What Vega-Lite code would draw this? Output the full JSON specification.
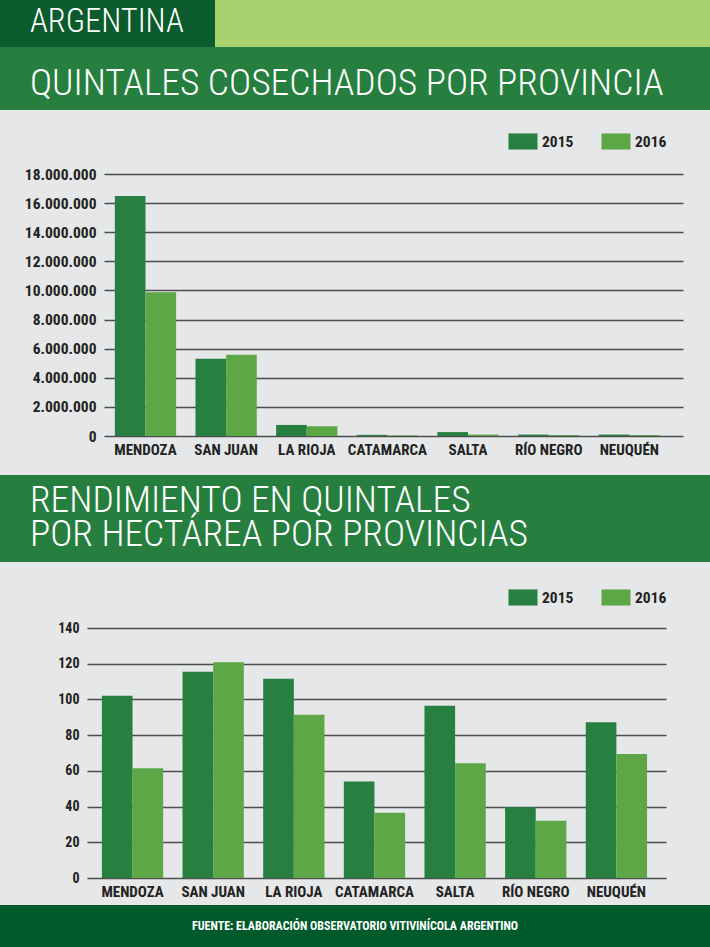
{
  "$schema": "https://vega.github.io/schema/vega-lite/v6.json",
  "padding": 0,
  "background": "#e6e7e8",
  "spacing": 0,
  "resolve": {"scale": {"color": "independent"}, "legend": {"color": "independent"}},
  "config": {
    "locale": {"number": {"decimal": ",", "thousands": ".", "grouping": [3], "currency": ["$", ""]}},
    "view": {"stroke": null},
    "font": "Roboto Condensed, Liberation Sans Narrow, DejaVu Sans Condensed, sans-serif"
  },
  "datasets": {
    "d": [
      {"provincia": "MENDOZA", "anio": "2015", "quintales": 16480000, "rendimiento": 102},
      {"provincia": "MENDOZA", "anio": "2016", "quintales": 9870000, "rendimiento": 61.5},
      {"provincia": "SAN JUAN", "anio": "2015", "quintales": 5310000, "rendimiento": 115.5},
      {"provincia": "SAN JUAN", "anio": "2016", "quintales": 5580000, "rendimiento": 120.8},
      {"provincia": "LA RIOJA", "anio": "2015", "quintales": 760000, "rendimiento": 111.6},
      {"provincia": "LA RIOJA", "anio": "2016", "quintales": 670000, "rendimiento": 91.4},
      {"provincia": "CATAMARCA", "anio": "2015", "quintales": 80000, "rendimiento": 54.1},
      {"provincia": "CATAMARCA", "anio": "2016", "quintales": 40000, "rendimiento": 36.6},
      {"provincia": "SALTA", "anio": "2015", "quintales": 270000, "rendimiento": 96.5},
      {"provincia": "SALTA", "anio": "2016", "quintales": 100000, "rendimiento": 64.2},
      {"provincia": "RÍO NEGRO", "anio": "2015", "quintales": 100000, "rendimiento": 39.6},
      {"provincia": "RÍO NEGRO", "anio": "2016", "quintales": 70000, "rendimiento": 32.1},
      {"provincia": "NEUQUÉN", "anio": "2015", "quintales": 100000, "rendimiento": 87.2},
      {"provincia": "NEUQUÉN", "anio": "2016", "quintales": 70000, "rendimiento": 69.4}
    ]
  },
  "vconcat": [
    {
      "hconcat": [
        {
          "data": {"values": []},
          "mark": "rect",
          "width": 215,
          "height": 47,
          "view": {"fill": "#0b5b2d", "stroke": null},
          "title": {"text": "ARGENTINA", "orient": "top", "anchor": "start", "frame": "group", "dx": 30, "offset": -64, "baseline": "alphabetic", "fontSize": 32.5, "fontWeight": 300, "color": "#ffffff"}
        },
        {
          "data": {"values": []},
          "mark": "rect",
          "width": 495,
          "height": 47,
          "view": {"fill": "#a7d26d", "stroke": null}
        }
      ],
      "spacing": 0
    },
    {
      "data": {"values": []},
      "mark": "rect",
      "width": 710,
      "height": 63,
      "view": {"fill": "#267f3f", "stroke": null},
      "title": {"text": "QUINTALES COSECHADOS POR PROVINCIA", "orient": "top", "anchor": "start", "frame": "group", "dx": 30, "offset": -85, "baseline": "alphabetic", "fontSize": 37.5, "fontWeight": 300, "color": "#ffffff"}
    },
    {
      "data": {"values": []},
      "mark": "rect",
      "width": 710,
      "height": 23
    },
    {
      "data": {"name": "d"},
      "mark": {"type": "bar"},
      "width": 683,
      "height": 262,
      "encoding": {
        "x": {
          "field": "provincia", "type": "nominal",
          "sort": ["MENDOZA", "SAN JUAN", "LA RIOJA", "CATAMARCA", "SALTA", "RÍO NEGRO", "NEUQUÉN"],
          "scale": {"range": [104, 683], "paddingInner": 0.24, "paddingOuter": 0.21, "align": 0.32},
          "axis": {"title": null, "labelAngle": 0, "domain": false, "ticks": false, "labelPadding": 6, "labelFontSize": 15, "labelFontWeight": "bold", "labelColor": "#222222"}
        },
        "xOffset": {"field": "anio", "type": "nominal", "scale": {"paddingInner": 0, "paddingOuter": 0}},
        "y": {
          "field": "quintales", "type": "quantitative",
          "scale": {"domain": [0, 18000000]},
          "axis": {"title": null, "offset": -104, "values": [0, 2000000, 4000000, 6000000, 8000000, 10000000, 12000000, 14000000, 16000000, 18000000], "format": ",d", "domain": false, "ticks": false, "gridColor": "#4d4d4d", "gridWidth": 1.3, "labelPadding": 8, "labelFontSize": 15.5, "labelFontWeight": "bold", "labelColor": "#222222"}
        },
        "color": {
          "field": "anio", "type": "nominal",
          "scale": {"domain": ["2015", "2016"], "range": ["#278040", "#5da746"]},
          "legend": {
            "title": null, "orient": "none", "direction": "horizontal", "legendX": 514.5, "legendY": -41,
            "symbolType": "M-1.8,-1H1.8V1H-1.8Z", "symbolSize": 260, "symbolStrokeWidth": 0, "symbolOpacity": 1,
            "labelOffset": 10.5, "columnPadding": 27, "labelFontSize": 15.5, "labelFontWeight": "bold", "labelColor": "#222222",
            "encode": {"symbols": {"update": {"fill": {"signal": "datum.value == '2015' ? '#00592b' : '#7dc24b'"}, "stroke": {"value": "transparent"}}}}
          }
        }
      }
    },
    {
      "data": {"values": []},
      "mark": "rect",
      "width": 710,
      "height": 18
    },
    {
      "data": {"values": []},
      "mark": "rect",
      "width": 710,
      "height": 87,
      "view": {"fill": "#267f3f", "stroke": null},
      "title": {"text": ["RENDIMIENTO EN QUINTALES", "POR HECTÁREA POR PROVINCIAS"], "orient": "top", "anchor": "start", "frame": "group", "dx": 30, "offset": -108, "baseline": "alphabetic", "lineHeight": 34, "fontSize": 37.5, "fontWeight": 300, "color": "#ffffff"}
    },
    {
      "data": {"values": []},
      "mark": "rect",
      "width": 710,
      "height": 27
    },
    {
      "data": {"name": "d"},
      "mark": {"type": "bar"},
      "width": 666,
      "height": 250,
      "encoding": {
        "x": {
          "field": "provincia", "type": "nominal",
          "sort": ["MENDOZA", "SAN JUAN", "LA RIOJA", "CATAMARCA", "SALTA", "RÍO NEGRO", "NEUQUÉN"],
          "scale": {"range": [87, 666], "paddingInner": 0.24, "paddingOuter": 0.21, "align": 0.44},
          "axis": {"title": null, "labelAngle": 0, "domain": false, "ticks": false, "labelPadding": 6, "labelFontSize": 15, "labelFontWeight": "bold", "labelColor": "#222222"}
        },
        "xOffset": {"field": "anio", "type": "nominal", "scale": {"paddingInner": 0, "paddingOuter": 0}},
        "y": {
          "field": "rendimiento", "type": "quantitative",
          "scale": {"domain": [0, 140]},
          "axis": {"title": null, "offset": -87, "values": [0, 20, 40, 60, 80, 100, 120, 140], "domain": false, "ticks": false, "gridColor": "#4d4d4d", "gridWidth": 1.3, "labelPadding": 8, "labelFontSize": 14, "labelFontWeight": "bold", "labelColor": "#222222"}
        },
        "color": {
          "field": "anio", "type": "nominal",
          "scale": {"domain": ["2015", "2016"], "range": ["#278040", "#5da746"]},
          "legend": {
            "title": null, "orient": "none", "direction": "horizontal", "legendX": 514.5, "legendY": -39,
            "symbolType": "M-1.8,-1H1.8V1H-1.8Z", "symbolSize": 260, "symbolStrokeWidth": 0, "symbolOpacity": 1,
            "labelOffset": 10.5, "columnPadding": 27, "labelFontSize": 15.5, "labelFontWeight": "bold", "labelColor": "#222222",
            "encode": {"symbols": {"update": {"fill": {"signal": "datum.value == '2015' ? '#00592b' : '#7dc24b'"}, "stroke": {"value": "transparent"}}}}
          }
        }
      }
    },
    {
      "data": {"values": []},
      "mark": "rect",
      "width": 710,
      "height": 6
    },
    {
      "data": {"values": []},
      "mark": "rect",
      "width": 710,
      "height": 42,
      "view": {"fill": "#005a2b", "stroke": null},
      "title": {"text": "FUENTE: ELABORACIÓN OBSERVATORIO VITIVINÍCOLA ARGENTINO", "orient": "top", "anchor": "middle", "frame": "group", "offset": -37, "baseline": "alphabetic", "fontSize": 12, "fontWeight": "bold", "color": "#ffffff"}
    }
  ]
}
